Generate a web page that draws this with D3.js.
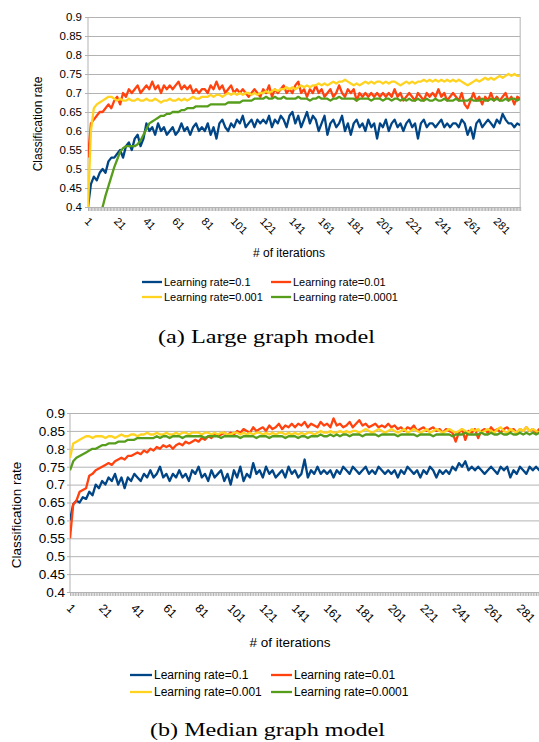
<!DOCTYPE html>
<html>
<head>
<meta charset="utf-8">
<script src="https://cdn.jsdelivr.net/npm/d3@7"></script>
<style>
body { margin: 0; background: #fff; }
text { font-family: "Liberation Sans", Arial, sans-serif; fill: #000; }
</style>
</head>
<body>
<svg id="fig" width="539" height="742"></svg>
<script>
// iterations are sampled every 2nd step (1, 3, ..., 297)
const iterations = d3.range(1, 298, 2);
const allIterations = d3.range(1, 298);
const xTicks = [1, 21, 41, 61, 81, 101, 121, 141, 161, 181, 201, 221, 241, 261, 281];
const yTicks = [0.4, 0.45, 0.5, 0.55, 0.6, 0.65, 0.7, 0.75, 0.8, 0.85, 0.9];
const seriesNames = ["Learning rate=0.1", "Learning rate=0.01", "Learning rate=0.001", "Learning rate=0.0001"];
const seriesColors = ["#004586", "#ff420e", "#ffd320", "#579d1c"];

// (a) large graph model
const largeLr1 = [
  0.40,0.46,0.48,0.47,0.49,0.50,0.49,0.52,0.53,0.53,
  0.54,0.55,0.53,0.56,0.57,0.55,0.58,0.59,0.56,0.58,
  0.62,0.60,0.61,0.59,0.62,0.60,0.61,0.59,0.60,0.61,
  0.59,0.60,0.62,0.60,0.61,0.59,0.61,0.62,0.60,0.61,
  0.60,0.62,0.59,0.61,0.58,0.62,0.63,0.61,0.60,0.62,
  0.61,0.63,0.62,0.64,0.61,0.62,0.63,0.61,0.63,0.62,
  0.63,0.62,0.64,0.61,0.63,0.62,0.64,0.63,0.61,0.64,
  0.65,0.62,0.64,0.61,0.63,0.65,0.62,0.64,0.63,0.60,
  0.62,0.64,0.59,0.62,0.63,0.61,0.62,0.64,0.60,0.62,
  0.59,0.62,0.63,0.61,0.62,0.60,0.63,0.61,0.62,0.58,
  0.62,0.61,0.63,0.60,0.62,0.63,0.61,0.62,0.60,0.62,
  0.63,0.61,0.62,0.58,0.62,0.63,0.61,0.62,0.62,0.61,
  0.62,0.63,0.61,0.62,0.61,0.62,0.62,0.61,0.63,0.62,
  0.59,0.61,0.58,0.62,0.63,0.61,0.62,0.63,0.62,0.61,
  0.63,0.62,0.645,0.63,0.62,0.62,0.61,0.62,0.615
];
const largeLr01 = [
  0.53,0.62,0.63,0.64,0.65,0.65,0.66,0.67,0.66,0.68,
  0.69,0.67,0.70,0.69,0.71,0.70,0.71,0.72,0.70,0.71,
  0.72,0.71,0.73,0.71,0.72,0.70,0.72,0.71,0.72,0.71,
  0.72,0.73,0.71,0.72,0.71,0.72,0.70,0.71,0.70,0.71,
  0.71,0.70,0.72,0.71,0.73,0.71,0.72,0.70,0.71,0.72,
  0.70,0.71,0.70,0.71,0.70,0.69,0.70,0.71,0.70,0.69,
  0.71,0.70,0.72,0.69,0.71,0.70,0.71,0.72,0.70,0.71,
  0.70,0.72,0.73,0.70,0.71,0.69,0.71,0.70,0.72,0.70,
  0.71,0.69,0.70,0.71,0.69,0.70,0.72,0.70,0.69,0.71,
  0.70,0.71,0.68,0.70,0.69,0.70,0.69,0.70,0.69,0.70,
  0.69,0.70,0.69,0.70,0.69,0.71,0.69,0.70,0.68,0.69,
  0.70,0.69,0.68,0.70,0.69,0.68,0.70,0.69,0.70,0.69,
  0.71,0.69,0.70,0.68,0.69,0.70,0.69,0.68,0.70,0.67,
  0.66,0.68,0.70,0.68,0.69,0.67,0.69,0.68,0.70,0.68,
  0.69,0.68,0.69,0.70,0.68,0.69,0.67,0.69,0.685
];
const largeLr001 = [
  0.40,0.60,0.66,0.67,0.675,0.68,0.685,0.69,0.69,0.685,
  0.68,0.685,0.68,0.68,0.685,0.68,0.68,0.685,0.68,0.68,
  0.685,0.68,0.68,0.685,0.68,0.675,0.68,0.68,0.685,0.68,
  0.68,0.685,0.68,0.685,0.68,0.685,0.69,0.685,0.685,0.69,
  0.69,0.69,0.695,0.69,0.695,0.695,0.69,0.695,0.70,0.695,
  0.70,0.695,0.70,0.695,0.70,0.70,0.695,0.70,0.695,0.70,
  0.70,0.705,0.70,0.705,0.71,0.705,0.71,0.71,0.715,0.71,
  0.715,0.71,0.715,0.72,0.715,0.72,0.715,0.72,0.72,0.725,
  0.72,0.725,0.72,0.725,0.73,0.725,0.73,0.73,0.735,0.73,
  0.725,0.72,0.725,0.72,0.725,0.73,0.725,0.73,0.725,0.73,
  0.73,0.725,0.73,0.725,0.73,0.73,0.725,0.72,0.725,0.73,
  0.725,0.73,0.725,0.73,0.73,0.735,0.73,0.735,0.73,0.735,
  0.73,0.735,0.73,0.735,0.73,0.735,0.73,0.735,0.73,0.725,
  0.72,0.725,0.73,0.735,0.73,0.735,0.74,0.735,0.74,0.735,
  0.74,0.745,0.74,0.745,0.75,0.745,0.75,0.745,0.745
];
const largeLr0001 = [
  0.33,0.345,0.36,0.375,0.39,0.40,0.43,0.455,0.48,0.505,
  0.525,0.545,0.555,0.56,0.56,0.56,0.56,0.565,0.575,0.59,
  0.605,0.62,0.625,0.63,0.635,0.64,0.64,0.645,0.645,0.65,
  0.65,0.65,0.655,0.655,0.66,0.66,0.66,0.665,0.665,0.665,
  0.665,0.665,0.67,0.67,0.67,0.67,0.67,0.67,0.675,0.675,
  0.675,0.675,0.675,0.68,0.68,0.68,0.68,0.685,0.685,0.685,
  0.685,0.69,0.685,0.685,0.69,0.685,0.685,0.69,0.685,0.685,
  0.685,0.685,0.69,0.685,0.685,0.685,0.68,0.685,0.685,0.69,
  0.685,0.685,0.685,0.68,0.685,0.685,0.69,0.685,0.685,0.685,
  0.685,0.685,0.68,0.685,0.685,0.685,0.685,0.68,0.685,0.685,
  0.685,0.68,0.685,0.685,0.68,0.685,0.685,0.68,0.685,0.68,
  0.685,0.68,0.68,0.685,0.68,0.68,0.685,0.68,0.68,0.685,
  0.68,0.68,0.685,0.68,0.68,0.68,0.685,0.68,0.68,0.68,
  0.68,0.685,0.68,0.68,0.68,0.685,0.68,0.68,0.685,0.68,
  0.685,0.68,0.68,0.685,0.68,0.685,0.685,0.68,0.685
];

// (b) median graph model
const medianLr1 = [
  0.60,0.645,0.655,0.65,0.665,0.66,0.68,0.67,0.70,0.69,
  0.71,0.70,0.72,0.71,0.73,0.70,0.72,0.69,0.72,0.71,
  0.73,0.72,0.71,0.73,0.72,0.74,0.72,0.73,0.75,0.72,
  0.73,0.71,0.73,0.72,0.74,0.72,0.73,0.71,0.74,0.73,
  0.75,0.72,0.73,0.71,0.74,0.72,0.73,0.74,0.71,0.73,
  0.70,0.74,0.72,0.75,0.71,0.73,0.72,0.76,0.73,0.74,
  0.72,0.75,0.73,0.74,0.72,0.73,0.74,0.72,0.75,0.73,
  0.74,0.72,0.73,0.77,0.72,0.74,0.73,0.75,0.73,0.74,
  0.73,0.74,0.72,0.74,0.73,0.75,0.74,0.73,0.75,0.74,
  0.73,0.74,0.75,0.73,0.74,0.73,0.75,0.74,0.73,0.74,
  0.73,0.74,0.72,0.74,0.73,0.75,0.74,0.73,0.74,0.72,
  0.74,0.73,0.75,0.74,0.72,0.74,0.73,0.74,0.73,0.75,
  0.74,0.76,0.75,0.765,0.74,0.75,0.74,0.75,0.74,0.73,
  0.74,0.75,0.74,0.73,0.75,0.74,0.75,0.72,0.74,0.73,
  0.75,0.74,0.73,0.75,0.74,0.75,0.74,0.75,0.745
];
const medianLr01 = [
  0.55,0.645,0.655,0.68,0.685,0.69,0.725,0.73,0.74,0.745,
  0.75,0.755,0.76,0.755,0.765,0.77,0.775,0.77,0.78,0.78,
  0.785,0.79,0.785,0.795,0.79,0.80,0.795,0.805,0.80,0.81,
  0.805,0.81,0.80,0.81,0.815,0.81,0.82,0.815,0.82,0.825,
  0.82,0.83,0.825,0.835,0.83,0.84,0.835,0.84,0.845,0.84,
  0.845,0.84,0.85,0.845,0.855,0.85,0.845,0.86,0.85,0.855,
  0.86,0.85,0.865,0.855,0.86,0.87,0.855,0.865,0.86,0.87,
  0.86,0.87,0.865,0.875,0.86,0.87,0.865,0.86,0.875,0.865,
  0.87,0.86,0.885,0.865,0.87,0.86,0.865,0.875,0.86,0.87,
  0.88,0.865,0.87,0.86,0.865,0.87,0.86,0.865,0.86,0.87,
  0.86,0.865,0.855,0.86,0.85,0.86,0.855,0.865,0.85,0.855,
  0.86,0.85,0.855,0.86,0.85,0.855,0.845,0.855,0.85,0.845,
  0.82,0.845,0.855,0.825,0.85,0.845,0.855,0.83,0.85,0.855,
  0.845,0.86,0.85,0.855,0.845,0.855,0.86,0.85,0.855,0.845,
  0.855,0.85,0.86,0.85,0.855,0.845,0.855,0.85,0.85
];
const medianLr001 = [
  0.775,0.815,0.82,0.825,0.83,0.835,0.835,0.83,0.835,0.835,
  0.835,0.83,0.835,0.835,0.83,0.835,0.84,0.835,0.835,0.84,
  0.84,0.835,0.84,0.84,0.845,0.84,0.84,0.845,0.84,0.84,
  0.845,0.84,0.84,0.845,0.84,0.845,0.845,0.84,0.845,0.845,
  0.845,0.84,0.845,0.845,0.84,0.845,0.84,0.845,0.845,0.84,
  0.84,0.845,0.845,0.84,0.845,0.84,0.845,0.84,0.845,0.845,
  0.84,0.845,0.84,0.845,0.84,0.845,0.845,0.84,0.845,0.84,
  0.845,0.84,0.845,0.84,0.845,0.845,0.84,0.845,0.85,0.845,
  0.845,0.85,0.845,0.845,0.85,0.845,0.85,0.845,0.85,0.85,
  0.845,0.85,0.855,0.85,0.845,0.85,0.855,0.85,0.845,0.85,
  0.855,0.85,0.845,0.85,0.855,0.845,0.85,0.855,0.85,0.845,
  0.85,0.855,0.845,0.85,0.855,0.85,0.845,0.85,0.855,0.85,
  0.845,0.85,0.855,0.85,0.845,0.855,0.85,0.855,0.845,0.85,
  0.855,0.85,0.845,0.855,0.86,0.85,0.845,0.855,0.85,0.845,
  0.855,0.85,0.86,0.85,0.855,0.85,0.845,0.855,0.85
];
const medianLr0001 = [
  0.74,0.765,0.775,0.78,0.785,0.79,0.795,0.80,0.80,0.805,
  0.81,0.81,0.815,0.815,0.815,0.82,0.82,0.82,0.825,0.825,
  0.825,0.83,0.83,0.83,0.83,0.83,0.83,0.835,0.83,0.835,
  0.835,0.83,0.835,0.835,0.835,0.83,0.835,0.835,0.835,0.835,
  0.835,0.835,0.83,0.835,0.835,0.835,0.835,0.83,0.835,0.835,
  0.835,0.835,0.835,0.83,0.835,0.835,0.835,0.835,0.83,0.835,
  0.835,0.835,0.83,0.835,0.835,0.835,0.835,0.83,0.835,0.835,
  0.835,0.83,0.835,0.835,0.83,0.835,0.835,0.835,0.84,0.835,
  0.835,0.84,0.835,0.84,0.835,0.84,0.84,0.835,0.84,0.84,
  0.84,0.835,0.84,0.84,0.84,0.84,0.835,0.84,0.84,0.84,
  0.84,0.84,0.835,0.84,0.84,0.84,0.84,0.84,0.835,0.84,
  0.84,0.84,0.84,0.835,0.84,0.84,0.84,0.84,0.84,0.835,
  0.84,0.84,0.84,0.845,0.84,0.84,0.84,0.84,0.845,0.84,
  0.84,0.845,0.84,0.84,0.845,0.84,0.84,0.845,0.84,0.84,
  0.845,0.84,0.845,0.84,0.845,0.84,0.845,0.845,0.84
];

const svg = d3.select("#fig");

function drawChart(c) {
  let g = svg.append("g");
  let x = d3.scaleLinear()
      .domain([1, 297])
      .range([c.left, c.left + 296 * c.step]);
  let y = d3.scaleLinear()
      .domain([0.4, 0.9])
      .range([c.bottom, c.top]);
  let plotRight = Math.min(x(297), 539);

  // gridlines and y labels
  let yAxis = g.append("g")
      .attr("transform", `translate(${c.left},0)`)
      .call(d3.axisLeft(y)
        .tickValues(yTicks)
        .tickFormat(d => String(+d.toFixed(2)))
        .tickSize(-(plotRight - c.left))
        .tickPadding(c.yPad));
  yAxis.select(".domain").remove();
  yAxis.selectAll("line").attr("x1", -3).attr("stroke", "#b3b3b3");
  yAxis.selectAll("text")
      .style("font-size", c.tickFont + "px")
      .style("font-family", '"Liberation Sans", Arial, sans-serif');

  // left axis line and right border
  g.append("line")
      .attr("x1", c.left).attr("x2", c.left)
      .attr("y1", c.top).attr("y2", c.bottom)
      .attr("stroke", "#b3b3b3");
  if (c.border) {
    g.append("line")
        .attr("x1", plotRight).attr("x2", plotRight)
        .attr("y1", c.top).attr("y2", c.bottom)
        .attr("stroke", "#b3b3b3");
  }

  // dense category ticks along the bottom
  let xAxis = g.append("g")
      .attr("transform", `translate(0,${c.bottom})`)
      .call(d3.axisBottom(x).tickValues(allIterations).tickSize(4).tickSizeOuter(0).tickFormat(""));
  xAxis.select(".domain").attr("stroke", "#b3b3b3");
  xAxis.selectAll("line").attr("stroke", "#b3b3b3");

  g.selectAll(".xlab")
      .data(xTicks)
      .enter()
      .append("text")
      .attr("class", "xlab")
      .attr("transform", d => `translate(${x(d) - 4},${c.bottom + c.xLabOff}) rotate(45)`)
      .style("font-size", c.xTickFont + "px")
      .text(d => d);

  // series lines
  let clipId = "clip" + c.id;
  g.append("clipPath").attr("id", clipId)
      .append("rect")
      .attr("x", c.left).attr("y", c.top - 3)
      .attr("width", plotRight - c.left).attr("height", c.bottom - c.top + 3);

  let line = d3.line()
      .x((d, i) => x(iterations[i]))
      .y(d => y(d));

  g.append("g")
      .attr("clip-path", `url(#${clipId})`)
      .selectAll("path")
      .data(c.series)
      .enter()
      .append("path")
      .attr("d", line)
      .attr("fill", "none")
      .attr("stroke", (d, i) => seriesColors[i])
      .attr("stroke-width", 2.3)
      .attr("stroke-linejoin", "round");

  // axis titles
  g.append("text")
      .attr("transform", `translate(${c.yTitleX},${c.yTitleY}) rotate(-90)`)
      .attr("text-anchor", "middle")
      .attr("dominant-baseline", "central")
      .style("font-size", c.titleFont + "px")
      .text("Classification rate");
  g.append("text")
      .attr("x", c.xTitleX).attr("y", c.xTitleY)
      .attr("text-anchor", "middle")
      .attr("dominant-baseline", "central")
      .style("font-size", c.titleFont + "px")
      .text("# of iterations");

  // legend
  seriesNames.forEach(function(name, i) {
    let col = c.legendCols[i % 2];
    let ly = c.legendRows[Math.floor(i / 2)];
    g.append("line")
        .attr("x1", col[0]).attr("x2", col[1])
        .attr("y1", ly).attr("y2", ly)
        .attr("stroke", seriesColors[i])
        .attr("stroke-width", 2.3);
    g.append("text")
        .attr("x", col[2]).attr("y", ly)
        .attr("dominant-baseline", "central")
        .style("font-size", c.legendFont + "px")
        .text(name);
  });

  // caption
  g.append("text")
      .attr("x", c.capX).attr("y", c.capY)
      .attr("textLength", c.capW)
      .attr("lengthAdjust", "spacingAndGlyphs")
      .style("font-family", '"Liberation Serif", "DejaVu Serif", serif')
      .style("font-size", "18px")
      .text(c.caption);
}

drawChart({
  id: "a", left: 88, step: 1.46, top: 17, bottom: 207, border: true,
  yPad: 6, tickFont: 11.5, xTickFont: 11, titleFont: 12, legendFont: 11, xLabOff: 15,
  yTitleX: 38, yTitleY: 124, xTitleX: 289, xTitleY: 253,
  legendRows: [282, 297], legendCols: [[142, 162, 164], [271, 291, 293]],
  capX: 158, capY: 343, capW: 217, caption: "(a)  Large graph model",
  series: [largeLr1, largeLr01, largeLr001, largeLr0001]
});

drawChart({
  id: "b", left: 70, step: 1.607, top: 413, bottom: 592, border: false,
  yPad: 5, tickFont: 13.5, xTickFont: 12, titleFont: 13.5, legendFont: 12, xLabOff: 17,
  yTitleX: 16, yTitleY: 515, xTitleX: 290, xTitleY: 642,
  legendRows: [675, 692], legendCols: [[130, 152, 154], [271, 292, 294]],
  capX: 150, capY: 736, capW: 235, caption: "(b)  Median graph model",
  series: [medianLr1, medianLr01, medianLr001, medianLr0001]
});
</script>
</body>
</html>
